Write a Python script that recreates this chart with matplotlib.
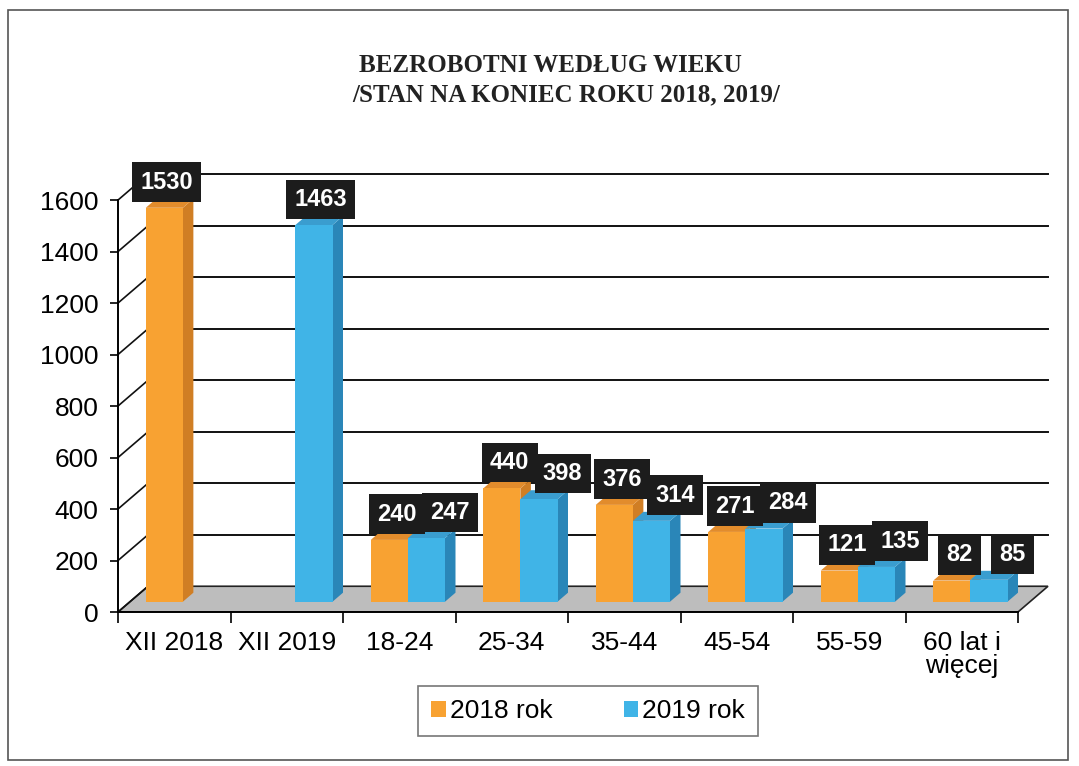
import matplotlib.pyplot as plt
from matplotlib.patches import Polygon, Rectangle, Patch

categories = ['XII 2018', 'XII 2019', '18-24', '25-34', '35-44', '45-54', '55-59', '60 lat i\nwięcej']
rok_2018 = [1530, 0, 240, 440, 376, 271, 121, 82]
rok_2019 = [0, 1463, 247, 398, 314, 284, 135, 85]
series_names = ['2018 rok', '2019 rok']
y_ticks = [0, 200, 400, 600, 800, 1000, 1200, 1400, 1600]

title_1 = 'BEZROBOTNI WEDŁUG WIEKU'
title_2 = '/STAN NA KONIEC ROKU 2018, 2019/'

# kolory: przód, góra, bok
ORANGE = ('#F8A232', '#E28C2C', '#D07E24')
BLUE = ('#40B4E7', '#3A9DCF', '#2A86B8')

plt.rcParams['font.family'] = ['Liberation Sans', 'DejaVu Sans']

W, H = 1079, 766
fig = plt.figure(figsize=(W / 100, H / 100), dpi=100)

# obszar wykresu w pikselach
left_px, right_px = 118, 1060
bottom_px, top_px = 612, 155
ax = fig.add_axes([left_px / W, 1 - bottom_px / H,
                   (right_px - left_px) / W, (bottom_px - top_px) / H])

n = len(categories)
cat_px = 900 / n
xmax = -0.5 + (right_px - left_px) / cat_px
ymax = 1775
ax.set_xlim(-0.5, xmax)
ax.set_ylim(0, ymax)

# głębokość "3D" w jednostkach danych
DX = 30 / cat_px
DY = 100

# podłoga
floor = Polygon([(-0.5, 0), (n - 0.5, 0), (n - 0.5 + DX, DY), (-0.5 + DX, DY)],
                closed=True, facecolor='#BDBDBD', edgecolor='#222222', lw=1.2, zorder=1)
ax.add_patch(floor)

# linie siatki na tylnej ścianie + skośne na lewej ścianie
for v in y_ticks:
    if v > 0:
        ax.plot([-0.5 + DX, n - 0.5 + DX], [v + DY, v + DY], color='#111111', lw=1.4, zorder=0.5)
    ax.plot([-0.5, -0.5 + DX], [v, v + DY], color='#111111', lw=1.2, zorder=2)

f, b = 0.4, 0.75
bw = 0.33


def bar3d(x0, v, cols):
    x1 = x0 + bw
    front = Polygon([(x0 + f * DX, f * DY), (x1 + f * DX, f * DY),
                     (x1 + f * DX, v + f * DY), (x0 + f * DX, v + f * DY)],
                    facecolor=cols[0], edgecolor='none', zorder=3)
    top = Polygon([(x0 + f * DX, v + f * DY), (x1 + f * DX, v + f * DY),
                   (x1 + b * DX, v + b * DY), (x0 + b * DX, v + b * DY)],
                  facecolor=cols[1], edgecolor='none', zorder=3)
    side = Polygon([(x1 + f * DX, f * DY), (x1 + b * DX, b * DY),
                    (x1 + b * DX, v + b * DY), (x1 + f * DX, v + f * DY)],
                   facecolor=cols[2], edgecolor='none', zorder=3)
    for p in (side, top, front):
        ax.add_patch(p)


def label(x0, v, shift):
    ax.text(x0 + bw / 2 + f * DX + shift, v + f * DY + 100, str(v),
            ha='center', va='center', color='white', fontsize=17, fontweight='bold',
            bbox=dict(boxstyle='square,pad=0.35', facecolor='#1c1c1c', edgecolor='none'),
            zorder=5)


for i in range(n):
    if rok_2018[i] > 0:
        bar3d(i - 0.36, rok_2018[i], ORANGE)
    if rok_2019[i] > 0:
        bar3d(i - 0.03, rok_2019[i], BLUE)
for i in range(n):
    both = rok_2018[i] > 0 and rok_2019[i] > 0
    if rok_2018[i] > 0:
        label(i - 0.36, rok_2018[i], 0.07 if both else 0.02)
    if rok_2019[i] > 0:
        label(i - 0.03, rok_2019[i], 0.21 if both else 0.06)

# osie
for s in ('top', 'right'):
    ax.spines[s].set_visible(False)
ax.spines['left'].set_bounds(0, 1600)
ax.spines['bottom'].set_bounds(-0.5, n - 0.5)
ax.spines['left'].set_linewidth(1.4)
ax.spines['bottom'].set_linewidth(1.4)
ax.spines['left'].set_zorder(4)
ax.spines['bottom'].set_zorder(4)

ax.set_yticks(y_ticks)
ax.set_yticklabels([str(v) for v in y_ticks])
ax.tick_params(axis='y', direction='out', length=6, width=1.2, labelsize=19, pad=8)

ax.set_xticks(range(n))
ax.set_xticklabels(categories, linespacing=0.95)
ax.set_xticks([i + 0.5 for i in range(-1, n)], minor=True)
ax.tick_params(axis='x', which='major', length=0, labelsize=19, pad=14)
ax.tick_params(axis='x', which='minor', direction='out', length=8, width=1.2)

# tytuł
fig.text(550 / W, 1 - 65 / H, title_1, ha='center', va='center', fontsize=18,
         fontweight='bold', family=['Liberation Serif', 'DejaVu Serif'], color='#222222')
fig.text(566 / W, 1 - 95 / H, title_2, ha='center', va='center', fontsize=18,
         fontweight='bold', family=['Liberation Serif', 'DejaVu Serif'], color='#222222')

# legenda
handles = [Patch(facecolor=ORANGE[0], edgecolor='none'), Patch(facecolor=BLUE[0], edgecolor='none')]
leg = fig.legend(handles, series_names, loc='center', bbox_to_anchor=(588 / W, 1 - 711 / H),
                 ncol=2, fontsize=19, frameon=True, fancybox=False,
                 handlelength=0.55, handleheight=0.55, handletextpad=0.15, columnspacing=2.7,
                 borderpad=0.5, borderaxespad=0)
leg.get_frame().set_edgecolor('#555555')
leg.get_frame().set_linewidth(1.2)

# ramka całego obrazu
fig.patches.append(Rectangle((8 / W, 1 - 760 / H), 1060 / W, 750 / H, transform=fig.transFigure,
                             fill=False, edgecolor='#555555', lw=1.2))

fig.savefig('out.png', dpi=100)
